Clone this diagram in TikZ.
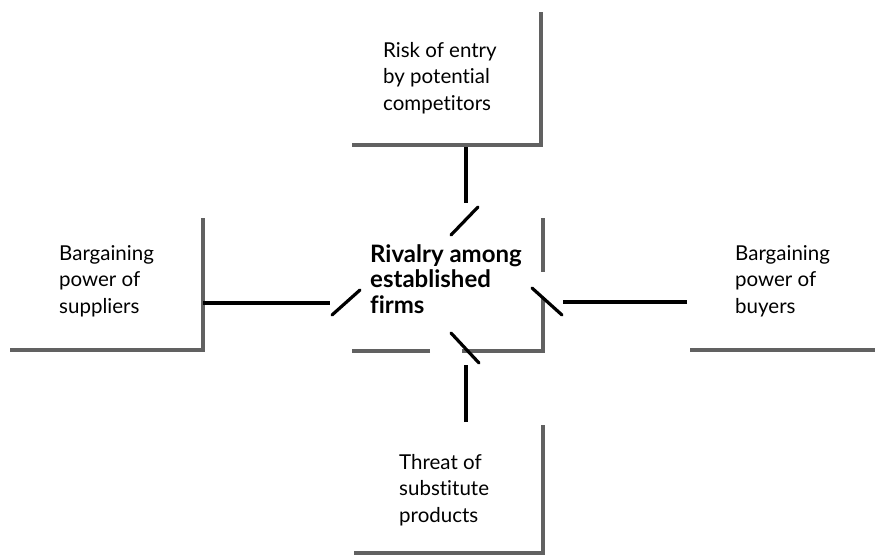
\documentclass[tikz,border=0pt]{standalone}
\usepackage{fontspec}
\setmainfont{Lato}[Ligatures=NoCommon]
\begin{document}
\begin{tikzpicture}[x=1pt,y=-1pt,
  shadow/.style={draw=black!62, line width=4.5pt, line cap=butt},
  link/.style={draw=black, line width=3.6pt, line cap=butt},
  slash/.style={draw=black, line width=3.2pt, line cap=round},
  lbl/.style={inner sep=0pt, anchor=base west, align=left,
    font=\fontsize{20.5}{26.5}\selectfont},
  blbl/.style={lbl, font=\fontsize{24}{25.5}\selectfont\bfseries}]
\useasboundingbox (0,0) rectangle (875,557);
% box shadows
% top box
\draw[shadow] (352,145) -- (541,145) -- (541,12);
% left box
\draw[shadow] (10,350) -- (203,350) -- (203,218);
% center box
\draw[shadow] (543,218) -- (543,272);
\draw[shadow] (543,297) -- (543,351) -- (462,351);
\draw[shadow] (430,351) -- (352,351);
% right box
\draw[shadow] (690,350) -- (875,350);
% bottom box
\draw[shadow] (354,553) -- (543,553) -- (543,425);
% labels (anchored at the baseline of the last line)
\node[lbl]  (entry) at (383,110) {Risk of entry\\by potential\\competitors};
\node[lbl]  (supp)  at (59,313)  {Bargaining\\power of\\suppliers};
\node[blbl] (rival) at (370,313) {Rivalry among\\established\\firms};
\node[lbl]  (buy)   at (735,313) {Bargaining\\power of\\buyers};
\node[lbl]  (subs)  at (399,522) {Threat of\\substitute\\products};
% connector end points
\coordinate (topA) at (466,147);  \coordinate (topB) at (466,203);
\coordinate (topS1) at (451,235); \coordinate (topS2) at (478,207);
\coordinate (lefA) at (203,303);  \coordinate (lefB) at (330,303);
\coordinate (lefS1) at (332,315); \coordinate (lefS2) at (360,290);
\coordinate (rigA) at (687,302);  \coordinate (rigB) at (563,302);
\coordinate (rigS1) at (532,288); \coordinate (rigS2) at (562,315);
\coordinate (botA) at (466,422);  \coordinate (botB) at (466,365);
\coordinate (botS1) at (451,333); \coordinate (botS2) at (479,363);
% connectors
\draw[link] (topA) -- (topB);
\draw[slash] (topS1) -- (topS2);
\draw[link] (lefA) -- (lefB);
\draw[slash] (lefS1) -- (lefS2);
\draw[link] (rigA) -- (rigB);
\draw[slash] (rigS1) -- (rigS2);
\draw[link] (botA) -- (botB);
\draw[slash] (botS1) -- (botS2);
\end{tikzpicture}
\end{document}
